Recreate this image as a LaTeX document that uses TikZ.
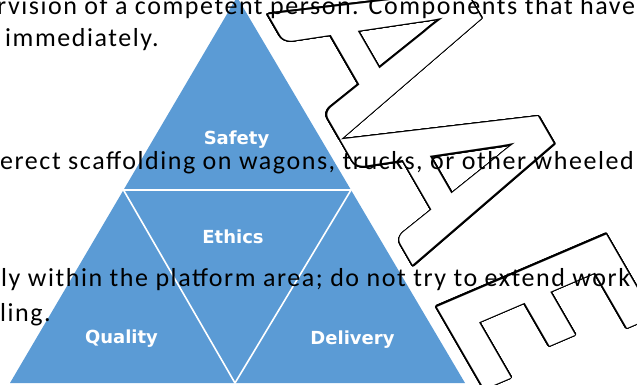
\documentclass[tikz,border=0pt]{standalone}
\usepackage{fontspec}
\setmainfont{Carlito}
\newfontfamily\bodyfont[LetterSpace=6]{Carlito}
\newfontfamily\labelfont{DejaVu Sans}
\usepackage[copies]{contour}
\contourlength{1.4pt}
\contournumber{32}
\definecolor{pyrblue}{HTML}{5B9BD5}

\begin{document}
\begin{tikzpicture}[x=1pt,y=-1pt,
    body/.style={font=\bodyfont\fontsize{26}{30}\selectfont, anchor=base west, inner sep=0pt},
    lbl/.style={font=\labelfont\bfseries\fontsize{18}{18}\selectfont, text=white, anchor=base, inner sep=0pt},
    wordart/.style={font=\fontsize{282}{282}\selectfont\bfseries, text=white, inner sep=0pt,
      rotate=-60, xslant=0.12, xscale=0.85}]
   \useasboundingbox (0,0) rectangle (637,385);
   % pyramid
   \coordinate (top) at (237,-3);
   \coordinate (bl) at (10,383);
   \coordinate (br) at (465,383);
   \coordinate (ml) at (123.5,190);
   \coordinate (mr) at (351,190);
   \coordinate (mb) at (235,383);
   \fill[pyrblue] (top) -- (bl) -- (br) -- cycle;
   \draw[white, line width=1.6pt] (ml) -- (mr) -- (mb) -- cycle;
   \node[lbl] (safety) at (236.5,145) {Safety};
   \node[lbl] (ethics) at (233,243) {Ethics};
   \node[lbl] (quality) at (121.5,343) {Quality};
   \node[lbl] (delivery) at (352.5,344) {Delivery};
   % outlined letters
   \node[wordart, anchor=base west] (aae) at (268,14) {\contour{black}{AA\kern40pt E}};
   % text lines behind
   \node[body] (line1) at (-3,15) {rvision of a competent person. Components that have};
   \node[body] (line2) at (5,47) {immediately.};
   \node[body] (line3) at (0,169) {erect scaffolding on wagons, trucks, or other wheeled};
   \node[body] (line4) at (1,286) {ly within the platform area; do not try to extend work};
   \node[body] (line5) at (0,321) {ling.};
\end{tikzpicture}
\end{document}
